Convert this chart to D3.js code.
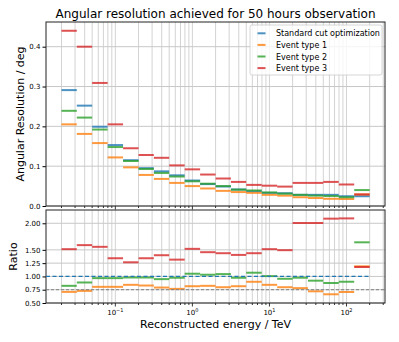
<!DOCTYPE html>
<html>
<head>
<meta charset="utf-8">
<script src="https://cdn.jsdelivr.net/npm/d3@7"></script>
<style>
  body { margin: 0; background: #fff; }
  text { font-family: "DejaVu Sans", sans-serif; fill: #000; }
</style>
</head>
<body>
<div id="chart"></div>
<script>
// chart size
var width = 399, height = 342;

// energy bin edges (TeV)
var binEdges = [0.02, 0.0316, 0.05, 0.0794, 0.126, 0.2, 0.316, 0.5, 0.794, 1.26, 2,
                3.16, 5, 7.94, 12.6, 20, 31.6, 50, 79.4, 126, 200];

// angular resolution (deg) per bin
var standardCut = [0.291, 0.252, 0.199, 0.153, 0.115, 0.095, 0.087, 0.077, 0.064, 0.055,
                   0.049, 0.0415, 0.037, 0.033, 0.032, 0.028, 0.028, 0.028, 0.0245, 0.0245];
var eventType1  = [0.205, 0.181, 0.158, 0.122, 0.097, 0.078, 0.068, 0.058, 0.050, 0.044,
                   0.038, 0.035, 0.033, 0.028, 0.026, 0.022, 0.020, 0.018, 0.0175, 0.029];
var eventType2  = [0.239, 0.222, 0.192, 0.148, 0.113, 0.093, 0.083, 0.074, 0.062, 0.056,
                   0.050, 0.041, 0.039, 0.034, 0.031, 0.028, 0.026, 0.025, 0.022, 0.040];
var eventType3  = [0.440, 0.400, 0.309, 0.205, 0.145, 0.128, 0.121, 0.102, 0.092, 0.079,
                   0.069, 0.0605, 0.053, 0.051, 0.0487, 0.058, 0.058, 0.0605, 0.054, 0.029];

// ratio to standard cut optimization
var ratioType1 = [0.709, 0.728, 0.804, 0.804, 0.842, 0.829, 0.791, 0.766, 0.816, 0.823,
                  0.797, 0.816, 0.899, 0.842, 0.797, 0.78, 0.72, 0.664, 0.707, 1.19];
var ratioType2 = [0.823, 0.886, 0.968, 0.968, 0.98, 0.98, 0.949, 0.975, 1.051, 1.032,
                  1.044, 0.975, 1.07, 1.006, 0.956, 0.976, 0.92, 0.876, 0.90, 1.642];
var ratioType3 = [1.513, 1.589, 1.557, 1.342, 1.266, 1.342, 1.399, 1.316, 1.519, 1.456,
                  1.437, 1.405, 1.437, 1.513, 1.494, 2.005, 2.005, 2.087, 2.092, 1.177];

var seriesNames = ["Standard cut optimization", "Event type 1", "Event type 2", "Event type 3"];
var colors = ["#1f77b4", "#ff7f0e", "#2ca02c", "#d62728"];

var topTicks = [0.0, 0.1, 0.2, 0.3, 0.4];
var ratioTicks = [0.5, 0.75, 1.0, 1.25, 1.5, 2.0];
var xMajor = [0.1, 1, 10, 100];

var svg = d3.select('#chart')
    .append('svg')
    .attr('width', width)
    .attr('height', height);

// scales
var x = d3.scaleLog().domain([Math.pow(10, -1.9), Math.pow(10, 2.5)]).range([46, 385]);
var yTop = d3.scaleLinear().domain([0, 0.462]).range([206, 22]);
var yBot = d3.scaleLinear().domain([0.5, 2.25]).range([303, 210]);

var xAll = x.ticks(); // 1..9 x 10^n inside domain
var supers = {"-1": "\u22121", "0": "0", "1": "1", "2": "2"};

function drawPanel(y, yTicks, fmt, series, showXLabels){
    var g = svg.append('g');
    var x0 = x.range()[0], x1 = x.range()[1];
    var yr = y.range();

    // grid
    g.selectAll('line.vgrid').data(xAll).enter().append('line')
        .attr('x1', d => x(d)).attr('x2', d => x(d))
        .attr('y1', yr[1]).attr('y2', yr[0])
        .attr('stroke', '#d3d3d3').attr('stroke-width', 1);
    g.selectAll('line.hgrid').data(yTicks).enter().append('line')
        .attr('x1', x0).attr('x2', x1)
        .attr('y1', d => y(d)).attr('y2', d => y(d))
        .attr('stroke', '#c8c8c8').attr('stroke-width', 1);

    // bin segments
    series.forEach(function(s){
        g.append('g').selectAll('line')
            .data(s.values)
            .enter()
            .append('line')
            .attr('x1', (d, i) => x(binEdges[i]))
            .attr('x2', (d, i) => x(binEdges[i + 1]))
            .attr('y1', d => y(d)).attr('y2', d => y(d))
            .attr('stroke', s.color)
            .attr('stroke-opacity', 0.8)
            .attr('stroke-width', 2);
    });

    // y axis
    var yAxis = d3.axisLeft(y).tickValues(yTicks).tickFormat(fmt).tickSize(3.5).tickPadding(2);
    var ya = g.append('g').attr('transform', 'translate(' + x0 + ',0)').call(yAxis);
    ya.select('.domain').remove();
    ya.selectAll('text').style('font-size', '7px').style('font-family', 'DejaVu Sans');

    // x axis ticks (major + minor)
    var xa = g.append('g');
    xa.selectAll('line').data(xAll).enter().append('line')
        .attr('x1', d => x(d)).attr('x2', d => x(d))
        .attr('y1', yr[0]).attr('y2', d => yr[0] + (xMajor.indexOf(d) >= 0 ? 3.5 : 2))
        .attr('stroke', '#000').attr('stroke-width', 0.8);
    if (showXLabels){
        var lbl = xa.selectAll('text').data(xMajor).enter().append('text')
            .attr('x', d => x(d)).attr('y', yr[0] + 12)
            .attr('text-anchor', 'middle')
            .style('font-size', '7px');
        lbl.append('tspan').text('10');
        lbl.append('tspan').attr('dy', -3).style('font-size', '5px')
            .text(d => supers[String(Math.round(Math.log10(d)))]);
    }

    // frame
    g.append('rect')
        .attr('x', x0).attr('y', yr[1])
        .attr('width', x1 - x0).attr('height', yr[0] - yr[1])
        .attr('fill', 'none').attr('stroke', '#222').attr('stroke-width', 1);
    return g;
}

// top panel
drawPanel(yTop, topTicks, d3.format('.1f'), [
    {values: standardCut, color: colors[0]},
    {values: eventType1, color: colors[1]},
    {values: eventType2, color: colors[2]},
    {values: eventType3, color: colors[3]}
], false);

// bottom panel
var bot = drawPanel(yBot, ratioTicks, d3.format('.2f'), [
    {values: ratioType2, color: colors[2]},
    {values: ratioType1, color: colors[1]},
    {values: ratioType3, color: colors[3]}
], true);

// reference lines in ratio panel
bot.append('line')
    .attr('x1', x.range()[0]).attr('x2', x.range()[1])
    .attr('y1', yBot(0.75)).attr('y2', yBot(0.75))
    .attr('stroke', '#808080').attr('stroke-width', 1)
    .attr('stroke-dasharray', '3,2');
bot.append('line')
    .attr('x1', x.range()[0]).attr('x2', x(binEdges[binEdges.length - 1]))
    .attr('y1', yBot(1.0)).attr('y2', yBot(1.0))
    .attr('stroke', colors[0]).attr('stroke-width', 1.3)
    .attr('stroke-dasharray', '4,2.5');

// title and labels
svg.append('text')
    .attr('x', 215.5).attr('y', 18)
    .attr('text-anchor', 'middle')
    .style('font-size', '12px')
    .text('Angular resolution achieved for 50 hours observation');

svg.append('text')
    .attr('transform', 'translate(24,114) rotate(-90)')
    .attr('text-anchor', 'middle')
    .style('font-size', '11px')
    .text('Angular Resolution / deg');

svg.append('text')
    .attr('transform', 'translate(17,256.5) rotate(-90)')
    .attr('text-anchor', 'middle')
    .style('font-size', '11px')
    .text('Ratio');

svg.append('text')
    .attr('x', 215.5).attr('y', 328)
    .attr('text-anchor', 'middle')
    .style('font-size', '11px')
    .text('Reconstructed energy / TeV');

// legend
var legend = svg.append('g');
legend.append('rect')
    .attr('x', 250).attr('y', 25).attr('width', 132).attr('height', 50)
    .attr('rx', 2)
    .attr('fill', '#fff').attr('fill-opacity', 0.8)
    .attr('stroke', '#cccccc').attr('stroke-width', 0.8);
var rows = legend.selectAll('g.row').data(seriesNames).enter().append('g')
    .attr('transform', (d, i) => 'translate(0,' + (33.3 + i * 11.6) + ')');
rows.append('line')
    .attr('x1', 257.5).attr('x2', 265.5)
    .attr('stroke', (d, i) => colors[i]).attr('stroke-opacity', 0.8)
    .attr('stroke-width', 2);
rows.append('text')
    .attr('x', 276).attr('y', 3)
    .style('font-size', '8px')
    .text(d => d);
</script>
</body>
</html>
